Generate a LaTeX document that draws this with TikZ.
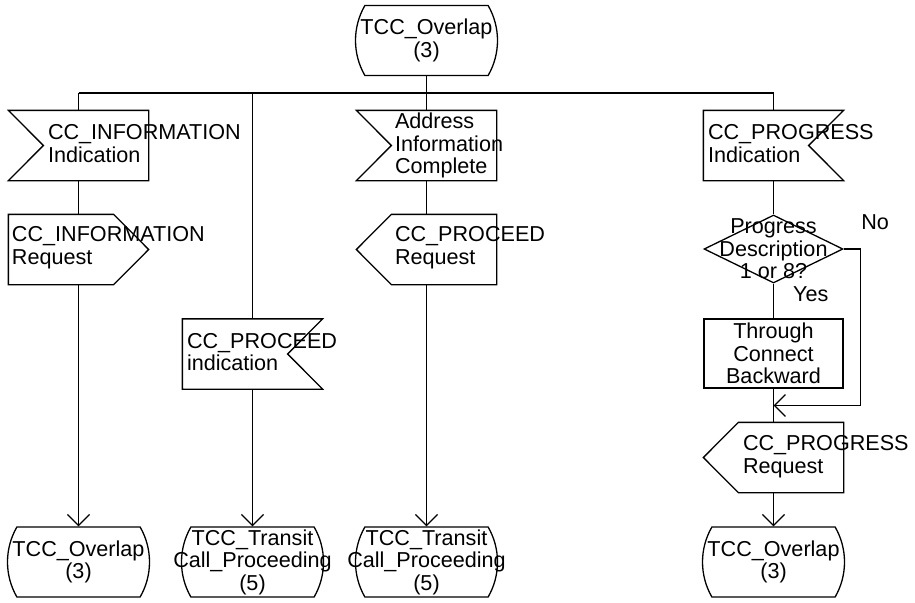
\documentclass[tikz,border=0pt]{standalone}
\usepackage{fontspec}
\setmainfont{Liberation Sans}
\usetikzlibrary{arrows.meta, positioning, calc, shapes.misc, shapes.geometric}

\begin{document}
\begin{tikzpicture}[
    x=1pt, y=-1pt,
    line width=1.3pt,
    every node/.style={inner sep=0pt},
    txt/.style={font=\fontsize{21.6}{22.5}\selectfont, align=left},
    ctxt/.style={font=\fontsize{21.6}{22.5}\selectfont, align=center},
    statebox/.style={draw, rounded rectangle, rounded rectangle arc length=60,
        minimum width=142pt, minimum height=70pt},
    sigbox/.style={minimum width=139pt, minimum height=69pt},
    decbox/.style={draw, diamond, minimum width=139pt, minimum height=68pt},
    taskbox/.style={draw, rectangle, minimum width=139pt, minimum height=69pt},
    flow/.style={-{Straight Barb[length=11pt, width=22pt]}}
]
\useasboundingbox (0,0) rectangle (915,602);

%% ---- Ausgangszustand ----
\node[statebox] (st0) at (426.5,40.5) {};
\node[ctxt] (st0t) at (st0) {TCC\_Overlap\\(3)};
\coordinate (bar) at (0,93);

%% ---- Spalte 1 ----
\node[sigbox] (infoind) at (78.5,145.5) {};
\draw (infoind.north west) -- (infoind.north east) -- (infoind.south east)
    -- (infoind.south west) -- ([xshift=35pt]infoind.west) -- cycle;
\node[txt, right=39pt of infoind.west, yshift=2pt] (infoindt) {CC\_INFORMATION\\Indication};

\node[sigbox] (inforeq) at (78.5,249.5) {};
\draw (inforeq.north west) -- ([xshift=-35pt]inforeq.north east) -- (inforeq.east)
    -- ([xshift=-35pt]inforeq.south east) -- (inforeq.south west) -- cycle;
\node[txt, right=3pt of inforeq.west, yshift=2pt] (inforeqt) {CC\_INFORMATION\\Request};

\node[statebox] (st1) at (78.5,562) {};
\node[ctxt] (st1t) at (st1) {TCC\_Overlap\\(3)};

%% ---- Spalte 2 ----
\node[sigbox] (procind) at (252.5,354) {};
\draw (procind.north west) -- (procind.north east) -- ([xshift=-35pt]procind.east)
    -- (procind.south east) -- (procind.south west) -- cycle;
\node[txt, right=4pt of procind.west, yshift=2pt] (procindt) {CC\_PROCEED\\indication};

\node[statebox] (st2) at (252.5,562) {};
\node[ctxt] (st2t) at (st2) {TCC\_Transit\\Call\_Proceeding\\(5)};

%% ---- Spalte 3 ----
\node[sigbox] (addrin) at (426.5,145.5) {};
\draw (addrin.north west) -- (addrin.north east) -- (addrin.south east)
    -- (addrin.south west) -- ([xshift=35pt]addrin.west) -- cycle;
\node[txt, right=38pt of addrin.west] (addrint) {Address\\Information\\Complete};

\node[sigbox] (procreq) at (426.5,249.5) {};
\draw (procreq.west) -- ([xshift=35pt]procreq.north west) -- (procreq.north east)
    -- (procreq.south east) -- ([xshift=35pt]procreq.south west) -- cycle;
\node[txt, right=38pt of procreq.west, yshift=2pt] (procreqt) {CC\_PROCEED\\Request};

\node[statebox] (st3) at (426.5,562) {};
\node[ctxt] (st3t) at (st3) {TCC\_Transit\\Call\_Proceeding\\(5)};

%% ---- Spalte 4 ----
\node[sigbox] (progind) at (773.5,145.5) {};
\draw (progind.north west) -- (progind.north east) -- ([xshift=-35pt]progind.east)
    -- (progind.south east) -- (progind.south west) -- cycle;
\node[txt, right=4pt of progind.west, yshift=2pt] (progindt) {CC\_PROGRESS\\Indication};

\node[decbox] (progdec) at (773.5,249) {};
\node[ctxt] (progdect) at (progdec) {Progress\\Description\\1 or 8?};
\node[ctxt, above right=19pt and 17pt of progdec.east] (no) {No};
\node[ctxt, below right=2pt and 19pt of progdec.south] (yes) {Yes};

\node[taskbox, ctxt] (thru) at (773.5,353.5) {Through\\Connect\\Backward};

\node[sigbox] (progreq) at (773.5,457.5) {};
\draw (progreq.west) -- ([xshift=35pt]progreq.north west) -- (progreq.north east)
    -- (progreq.south east) -- ([xshift=35pt]progreq.south west) -- cycle;
\node[txt, right=39pt of progreq.west, yshift=1pt] (progreqt) {CC\_PROGRESS\\Request};

\node[statebox] (st4) at (773.5,562) {};
\node[ctxt] (st4t) at (st4) {TCC\_Overlap\\(3)};

%% ---- Verbindungen ----
\draw (st0.south) -- (st0.south |- bar);
\draw (infoind.north |- bar) -- (progind.north |- bar);
\draw (infoind.north |- bar) -- (infoind.north);
\draw (procind.north |- bar) -- (procind.north);
\draw (addrin.north |- bar) -- (addrin.north);
\draw (progind.north |- bar) -- (progind.north);

\draw (infoind.south) -- (inforeq.north);
\draw[flow] (inforeq.south) -- (st1.north);
\draw[flow] (procind.south) -- (st2.north);
\draw (addrin.south) -- (procreq.north);
\draw[flow] (procreq.south) -- (st3.north);

\draw (progind.south) -- (progdec.north);
\draw (progdec.south) -- (thru.north);
\draw (thru.south) -- (progreq.north);
\coordinate (merge) at ($(thru.south)!0.5!(progreq.north)$);
\draw[flow] (progdec.east) -- ++(17,0) |- (merge);
\draw[flow] (progreq.south) -- (st4.north);

\end{tikzpicture}
\end{document}
